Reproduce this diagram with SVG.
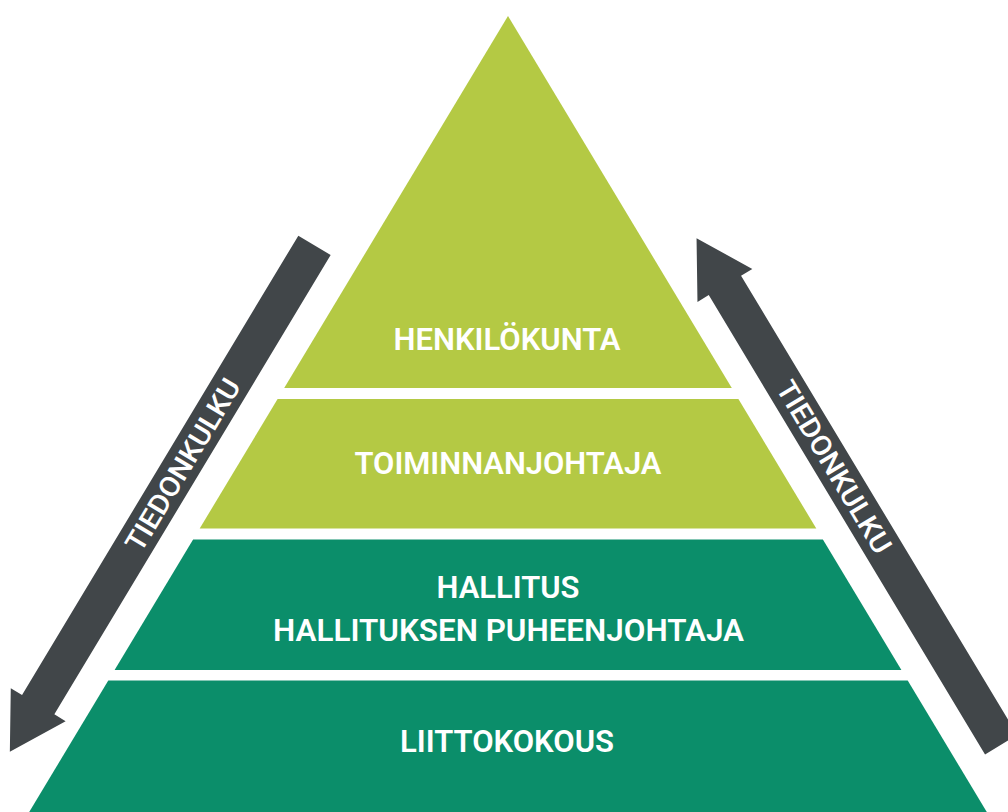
<svg xmlns="http://www.w3.org/2000/svg" width="1008" height="812" viewBox="0 0 1008 812">
<style>
.light{fill:#B4C944}
.dark{fill:#0B8E6A}
.arrow{fill:#414649}
.lbl{font-family:Roboto,"Liberation Sans",sans-serif;font-weight:600;font-size:32px;fill:#FFFFFF;text-anchor:middle}
.alb{font-family:Roboto,"Liberation Sans",sans-serif;font-weight:500;font-size:28px;fill:#FFFFFF;text-anchor:middle}
</style>
<rect width="1008" height="812" fill="#FFFFFF"/>
<g id="henkilokunta">
<polygon class="light" points="508,16 731.8,388 284.2,388"/>
<text class="lbl" x="507" y="350" textLength="227" lengthAdjust="spacingAndGlyphs">HENKILÖKUNTA</text>
</g>
<g id="toiminnanjohtaja">
<polygon class="light" points="277.6,399 738.4,399 816.3,528.5 199.7,528.5"/>
<text class="lbl" x="508" y="474" textLength="307" lengthAdjust="spacingAndGlyphs">TOIMINNANJOHTAJA</text>
</g>
<g id="hallitus">
<polygon class="dark" points="193.1,539.5 822.9,539.5 901.4,670 114.6,670"/>
<text class="lbl" x="508" y="597.5" textLength="143" lengthAdjust="spacingAndGlyphs">HALLITUS</text>
<text class="lbl" x="508.5" y="641" textLength="471" lengthAdjust="spacingAndGlyphs">HALLITUKSEN PUHEENJOHTAJA</text>
</g>
<g id="liittokokous">
<polygon class="dark" points="108.3,680.5 907.7,680.5 986.8,812 29.2,812"/>
<text class="lbl" x="507" y="751.5" textLength="214" lengthAdjust="spacingAndGlyphs">LIITTOKOKOUS</text>
</g>
<g id="connectors">
<g id="arrow-down" transform="translate(314.5,245.35) rotate(121.03)">
<path class="arrow" d="M0,-18.85 L536,-18.85 L536,-32 L591,0 L536,32 L536,18.85 L0,18.85 Z"/>
</g>
<text class="alb" transform="translate(182.7,464.7) rotate(-59.03)" y="10" textLength="196" lengthAdjust="spacingAndGlyphs">TIEDONKULKU</text>
<g id="arrow-up" transform="translate(1001.2,744.7) rotate(-121.03)">
<path class="arrow" d="M0,-18.85 L536,-18.85 L536,-32 L591,0 L536,32 L536,18.85 L0,18.85 Z"/>
</g>
<text class="alb" transform="translate(834.3,467) rotate(59.03)" y="10" textLength="196" lengthAdjust="spacingAndGlyphs">TIEDONKULKU</text>
</g>
</svg>
